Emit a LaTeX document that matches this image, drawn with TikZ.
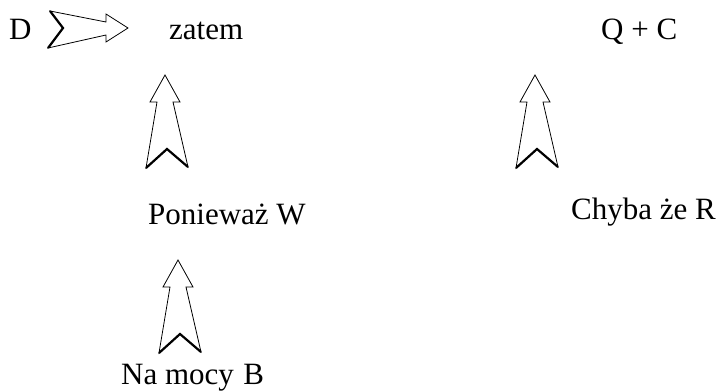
\documentclass[tikz,border=0pt]{standalone}
\usepackage{fontspec}
\setmainfont{Liberation Serif}
\tikzset{
  lbl/.style={anchor=base west, inner sep=0pt, font=\fontsize{31}{36}\selectfont},
  outline/.style={draw=black, line width=0.8pt, fill=white, line join=miter},
  notchline/.style={draw=black, line width=2.2pt, line join=miter},
  uparrow/.pic={
    \path[outline] (0,0) -- (15,27) -- (8,27) -- (23,92) -- (2,74) -- (-19,93) -- (-8,27) -- (-15,27) -- cycle;
    \draw[notchline] (-19,93) -- (2,74) -- (23,92);
  },
  rightarrow/.pic={
    \path[outline] (0,0) -- (-22,-14) -- (-22,-6) -- (-78,-17) -- (-65,0) -- (-80,20) -- (-22,7) -- (-22,14) -- cycle;
    \draw[notchline] (-78,-17) -- (-65,0) -- (-80,20);
  }
}
\begin{document}
\begin{tikzpicture}[x=1pt,y=-1pt]
\useasboundingbox (0,0) rectangle (717,391);
\node[lbl] (d) at (9,39) {D};
\node[lbl] (zatem) at (169,39) {zatem};
\node[lbl] (qc) at (601,39) {Q + C};
\node[lbl] (poniewaz) at (148,224) {Ponieważ W};
\node[lbl] (chyba) at (571,219) {Chyba że R};
\node[lbl] (namocy) at (121,384) {Na mocy\hspace{0.3em}B};
\coordinate (t1) at (128,28);
\coordinate (t2) at (165,75);
\coordinate (t3) at (535,75);
\coordinate (t4) at (178,260);
\pic at (t1) {rightarrow};
\pic at (t2) {uparrow};
\pic at (t3) {uparrow};
\pic at (t4) {uparrow};
\end{tikzpicture}
\end{document}
